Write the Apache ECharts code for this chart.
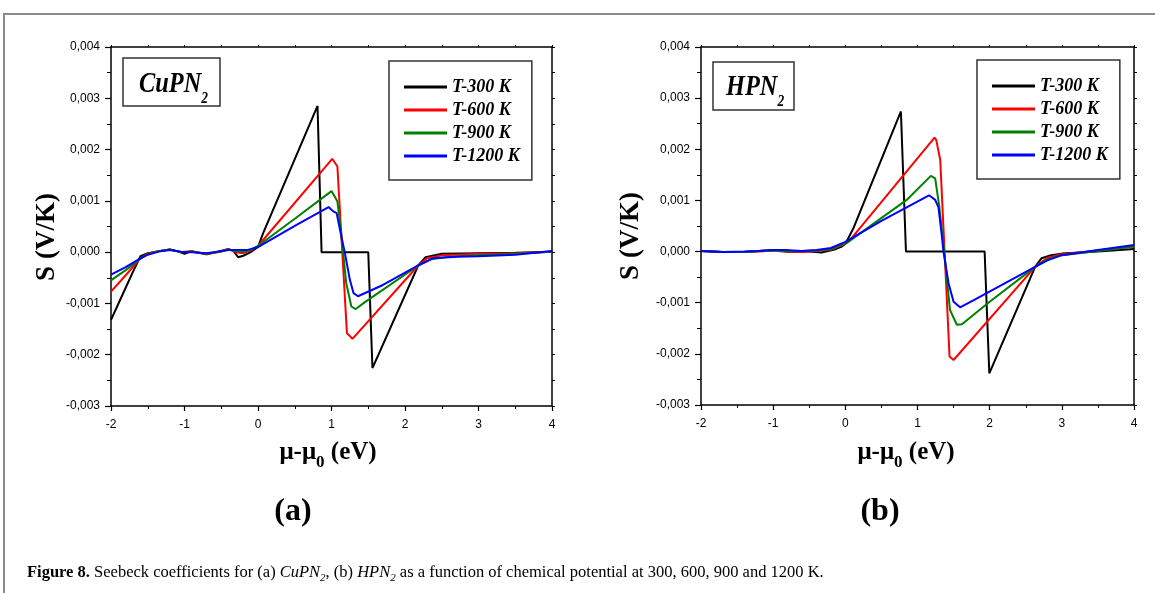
<!DOCTYPE html>
<html>
<head>
<meta charset="utf-8">
<script src="https://cdn.jsdelivr.net/npm/echarts@6/dist/echarts.min.js"></script>
<style>
html,body{margin:0;padding:0;background:#fff;}
#c{width:1155px;height:593px;}
</style>
</head>
<body>
<div id="c"></div>
<script>
// ---- data ----
const seriesNames = ['T-300 K', 'T-600 K', 'T-900 K', 'T-1200 K'];
const seriesColors = ['#000000', '#ff0000', '#008000', '#0000ff'];
const xTicks = [-2, -1, 0, 1, 2, 3, 4];
const yTicks = [-0.003, -0.002, -0.001, 0.000, 0.001, 0.002, 0.003, 0.004];

// (a) CuPN2  [mu - mu0 (eV), S (V/K)]
const cuT300 = [[-2,-0.00132],[-1.85,-0.00085],[-1.7,-0.00038],[-1.6,-0.00008],[-1.5,-0.00002],[-1.35,0.00002],[-1.2,0.00005],[-1.1,0.00002],[-1.0,-0.00003],[-0.9,0.00002],[-0.85,0.0],[-0.7,-0.00004],[-0.55,0.00001],[-0.4,0.00006],[-0.33,0.00002],[-0.27,-0.0001],[-0.2,-0.00007],[-0.1,0.0],[0,0.0001],[0.07,0.00037],[0.81,0.00285],[0.865,0.0],[1.5,0.0],[1.557,-0.00226],[2.18,-0.00026],[2.28,-0.0001],[2.5,-0.00003],[3,-0.00002],[3.5,-0.00001],[4,0.00001]];
const cuT600 = [[-2,-0.00077],[-1.8,-0.00045],[-1.6,-0.00012],[-1.5,-0.00003],[-1.35,0.00002],[-1.2,0.00005],[-1.05,0.0],[-0.9,0.00002],[-0.7,-0.00004],[-0.5,0.00001],[-0.4,0.00006],[-0.3,0.0],[-0.2,-0.00002],[-0.1,0.00003],[0,0.00012],[1.01,0.00182],[1.08,0.00167],[1.21,-0.00158],[1.285,-0.00169],[2.18,-0.00026],[2.3,-0.00012],[2.5,-0.00006],[3,-0.00003],[3.5,-0.00002],[4,0.00001]];
const cuT900 = [[-2,-0.00055],[-1.8,-0.00035],[-1.6,-0.00013],[-1.5,-0.00004],[-1.35,0.00002],[-1.2,0.00005],[-1.05,0.0],[-0.9,0.00001],[-0.7,-0.00003],[-0.5,0.00001],[-0.4,0.00005],[-0.3,0.00002],[-0.2,0.00001],[-0.1,0.00004],[0,0.00012],[0.5,0.00065],[1.0,0.00119],[1.08,0.00099],[1.13,0.0004],[1.2,-0.0006],[1.27,-0.00106],[1.33,-0.00111],[1.45,-0.00098],[2.18,-0.00026],[2.35,-0.00014],[2.6,-0.00009],[3,-0.00006],[3.5,-0.00003],[4,0.00001]];
const cuT1200 = [[-2,-0.00044],[-1.8,-0.00029],[-1.6,-0.00012],[-1.5,-0.00005],[-1.35,0.00001],[-1.2,0.00004],[-1.05,0.00001],[-0.9,0.0],[-0.7,-0.00002],[-0.5,0.00002],[-0.4,0.00004],[-0.3,0.00004],[-0.15,0.00004],[0,0.0001],[0.5,0.00051],[0.96,0.00088],[1.02,0.0008],[1.07,0.00076],[1.135,0.0003],[1.18,0.0],[1.25,-0.00054],[1.3,-0.0008],[1.36,-0.00086],[1.7,-0.00064],[2.18,-0.00026],[2.38,-0.00012],[2.7,-0.00009],[3,-0.00008],[3.5,-0.00005],[4,0.00002]];

// (b) HPN2
const hpT300 = [[-2,0.00001],[-1.7,-0.00001],[-1.4,-0.00001],[-1.2,0.00001],[-1.0,0.00003],[-0.85,0.00003],[-0.7,0.0],[-0.5,0.0],[-0.33,-0.00002],[-0.15,0.00004],[-0.05,0.0001],[0,0.00015],[0.11,0.00045],[0.77,0.00274],[0.84,0.0],[1.93,0.0],[1.995,-0.00238],[2.63,-0.0003],[2.72,-0.00013],[2.85,-0.00007],[3,-0.00004],[3.5,0.0],[4,0.00005]];
const hpT600 = [[-2,0.00001],[-1.7,-0.00001],[-1.4,-0.00001],[-1.2,0.0],[-1.0,0.00002],[-0.8,-0.00001],[-0.6,-0.00001],[-0.4,0.00001],[-0.2,0.00004],[0,0.00015],[0.05,0.0002],[1.236,0.00223],[1.26,0.00218],[1.315,0.00179],[1.444,-0.00205],[1.5,-0.00212],[2.63,-0.0003],[2.8,-0.00012],[3,-0.00005],[3.5,0.00002],[4,0.0001]];
const hpT900 = [[-2,0.00001],[-1.7,-0.00001],[-1.4,-0.00001],[-1.2,0.00001],[-1.0,0.00002],[-0.8,0.0],[-0.6,0.00001],[-0.4,0.00002],[-0.2,0.00005],[0,0.00016],[0.05,0.0002],[0.85,0.00101],[1.185,0.00148],[1.245,0.00143],[1.3,0.0009],[1.37,0.0],[1.45,-0.00114],[1.545,-0.00143],[1.615,-0.00142],[2.0,-0.00098],[2.63,-0.0003],[2.8,-0.00015],[3,-0.00007],[3.5,0.00001],[4,0.0001]];
const hpT1200 = [[-2,0.00001],[-1.7,-0.00001],[-1.4,0.0],[-1.2,0.00001],[-1.0,0.00003],[-0.85,0.00003],[-0.6,0.00001],[-0.4,0.00003],[-0.2,0.00007],[0,0.00019],[0.5,0.0006],[1.16,0.0011],[1.245,0.00101],[1.29,0.00087],[1.33,0.0004],[1.36,0.0],[1.43,-0.00062],[1.5,-0.00098],[1.59,-0.00109],[1.78,-0.00095],[2.63,-0.0003],[2.8,-0.00017],[3,-0.00007],[3.5,0.00003],[4,0.00013]];

const panelA = [cuT300, cuT600, cuT900, cuT1200];
const panelB = [hpT300, hpT600, hpT900, hpT1200];

// ---- chart ----
const SERIF = '"Liberation Serif", "Times New Roman", serif';
const SANS = '"Liberation Sans", Arial, sans-serif';
const xMin = xTicks[0], xMax = xTicks[xTicks.length - 1];
const yMin = yTicks[0], yMax = yTicks[yTicks.length - 1];

const chart = echarts.init(document.getElementById('c'), null, {renderer: 'canvas'});

function fmtY(v) { return v.toFixed(3).replace('.', ','); }

function xAxes(g) {
  return [
    {type: 'value', gridIndex: g, position: 'bottom', min: xMin, max: xMax, interval: 1,
     axisLine: {show: true, onZero: false, lineStyle: {color: '#000', width: 1.5}},
     axisTick: {show: true, inside: false, length: 5, lineStyle: {color: '#000', width: 1.2}},
     minorTick: {show: true, splitNumber: 2, length: 3, lineStyle: {color: '#000', width: 1}},
     axisLabel: {show: true, margin: 13, color: '#000', fontFamily: SANS, fontSize: 12},
     splitLine: {show: false}},
    {type: 'value', gridIndex: g, position: 'top', min: xMin, max: xMax, interval: 1,
     axisLine: {show: true, onZero: false, lineStyle: {color: '#000', width: 1.5}},
     axisTick: {show: true, inside: false, length: 2, lineStyle: {color: '#000', width: 1}},
     minorTick: {show: true, splitNumber: 2, length: 2, lineStyle: {color: '#000', width: 1}},
     axisLabel: {show: false}, splitLine: {show: false}}
  ];
}
function yAxes(g) {
  return [
    {type: 'value', gridIndex: g, position: 'left', min: yMin, max: yMax, interval: 0.001,
     axisLine: {show: true, onZero: false, lineStyle: {color: '#000', width: 1.5}},
     axisTick: {show: true, inside: false, length: 6, lineStyle: {color: '#000', width: 1.2}},
     minorTick: {show: true, splitNumber: 2, length: 4, lineStyle: {color: '#000', width: 1}},
     axisLabel: {show: true, margin: 11, color: '#000', fontFamily: SANS, fontSize: 12, formatter: fmtY},
     splitLine: {show: false}},
    {type: 'value', gridIndex: g, position: 'right', min: yMin, max: yMax, interval: 0.001,
     axisLine: {show: true, onZero: false, lineStyle: {color: '#000', width: 1.5}},
     axisTick: {show: true, inside: false, length: 3, lineStyle: {color: '#000', width: 1}},
     minorTick: {show: true, splitNumber: 2, length: 3, lineStyle: {color: '#000', width: 1}},
     axisLabel: {show: false}, splitLine: {show: false}}
  ];
}

const series = [];
panelA.forEach((d, i) => series.push({
  name: seriesNames[i], type: 'line', xAxisIndex: 0, yAxisIndex: 0, data: d,
  showSymbol: false, symbol: 'none', smooth: false, animation: false,
  itemStyle: {color: seriesColors[i]}, lineStyle: {color: seriesColors[i], width: 2}
}));
panelB.forEach((d, i) => series.push({
  name: seriesNames[i], type: 'line', xAxisIndex: 2, yAxisIndex: 2, data: d,
  showSymbol: false, symbol: 'none', smooth: false, animation: false,
  itemStyle: {color: seriesColors[i]}, lineStyle: {color: seriesColors[i], width: 2}
}));

function legendAt(left, top) {
  return {
    left: left, top: top, orient: 'vertical', data: seriesNames,
    icon: 'rect', itemWidth: 43, itemHeight: 3, itemGap: 5,
    padding: [17, 12, 15, 15], borderColor: '#333', borderWidth: 1.5, backgroundColor: '#fff',
    selectedMode: false,
    textStyle: {fontFamily: SERIF, fontWeight: 'bold', fontStyle: 'italic', fontSize: 18, color: '#000', lineHeight: 18}
  };
}

function subText(x, y, main, sub, tail, mainFont, subFont, lineH, subLH, align, sx) {
  return {
    type: 'text', x: x, y: y, z: 10, scaleX: sx || 1,
    style: {
      text: '{a|' + main + '}{s|' + sub + '}' + (tail ? '{a|' + tail + '}' : ''),
      align: align || 'left', verticalAlign: 'top',
      rich: {
        a: {font: mainFont, lineHeight: lineH, fill: '#000'},
        s: {font: subFont, lineHeight: subLH, verticalAlign: 'bottom', fill: '#000'}
      }
    }
  };
}

const option = {
  backgroundColor: '#fff',
  animation: false,
  grid: [
    {left: 111, top: 47, width: 441, height: 359, containLabel: false},
    {left: 701, top: 47, width: 433, height: 358, containLabel: false}
  ],
  xAxis: xAxes(0).concat(xAxes(1)),
  yAxis: yAxes(0).concat(yAxes(1)),
  legend: [legendAt(389, 61), legendAt(977, 60)],
  series: series,
  graphic: [
    // page frame
    {type: 'polyline', shape: {points: [[4, 593], [4, 14], [1155, 14]]}, style: {stroke: '#8a8a8a', lineWidth: 2, fill: null}, silent: true},
    // label boxes
    {type: 'rect', shape: {x: 123, y: 58, width: 97, height: 48}, style: {stroke: '#333', lineWidth: 1.5, fill: '#fff'}, z: 5},
    subText(139, 63, 'CuPN', '2', '', 'italic bold 29px ' + SERIF, 'italic bold 16px ' + SERIF, 44, 16, 'left', 0.84),
    {type: 'rect', shape: {x: 713, y: 62, width: 81, height: 48}, style: {stroke: '#333', lineWidth: 1.5, fill: '#fff'}, z: 5},
    subText(726, 66, 'HPN', '2', '', 'italic bold 29px ' + SERIF, 'italic bold 16px ' + SERIF, 44, 16, 'left', 0.84),
    // y axis titles
    {type: 'text', x: 47, y: 237, rotation: Math.PI / 2, z: 10,
     style: {text: 'S (V/K)', font: 'bold 27px ' + SERIF, align: 'center', verticalAlign: 'middle', fill: '#000'}},
    {type: 'text', x: 631, y: 236, rotation: Math.PI / 2, z: 10,
     style: {text: 'S (V/K)', font: 'bold 27px ' + SERIF, align: 'center', verticalAlign: 'middle', fill: '#000'}},
    // x axis titles
    subText(328, 435, 'μ-μ', '0', ' (eV)', 'bold 25px ' + SERIF, 'bold 17px ' + SERIF, 36, 16, 'center'),
    subText(906, 435, 'μ-μ', '0', ' (eV)', 'bold 25px ' + SERIF, 'bold 17px ' + SERIF, 36, 16, 'center'),
    // panel labels
    {type: 'text', x: 293, y: 512, z: 10, style: {text: '(a)', font: 'bold 32px ' + SERIF, align: 'center', verticalAlign: 'middle', fill: '#000'}},
    {type: 'text', x: 880, y: 512, z: 10, style: {text: '(b)', font: 'bold 32px ' + SERIF, align: 'center', verticalAlign: 'middle', fill: '#000'}},
    // caption
    {type: 'text', x: 27, y: 562, z: 10,
     style: {
       text: '{b|Figure 8.}{r| Seebeck coefficients for (a) }{i|CuPN}{s|2}{r|, (b) }{i|HPN}{s|2}{r| as a function of chemical potential at 300, 600, 900 and 1200 K.}',
       align: 'left', verticalAlign: 'top',
       rich: {
         b: {font: 'bold 16.5px ' + SERIF, lineHeight: 22, fill: '#000'},
         r: {font: '16.5px ' + SERIF, lineHeight: 22, fill: '#000'},
         i: {font: 'italic 16.5px ' + SERIF, lineHeight: 22, fill: '#000'},
         s: {font: 'italic 11px ' + SERIF, lineHeight: 13, verticalAlign: 'bottom', fill: '#000'}
       }
     }}
  ]
};
chart.setOption(option);
</script>
</body>
</html>
